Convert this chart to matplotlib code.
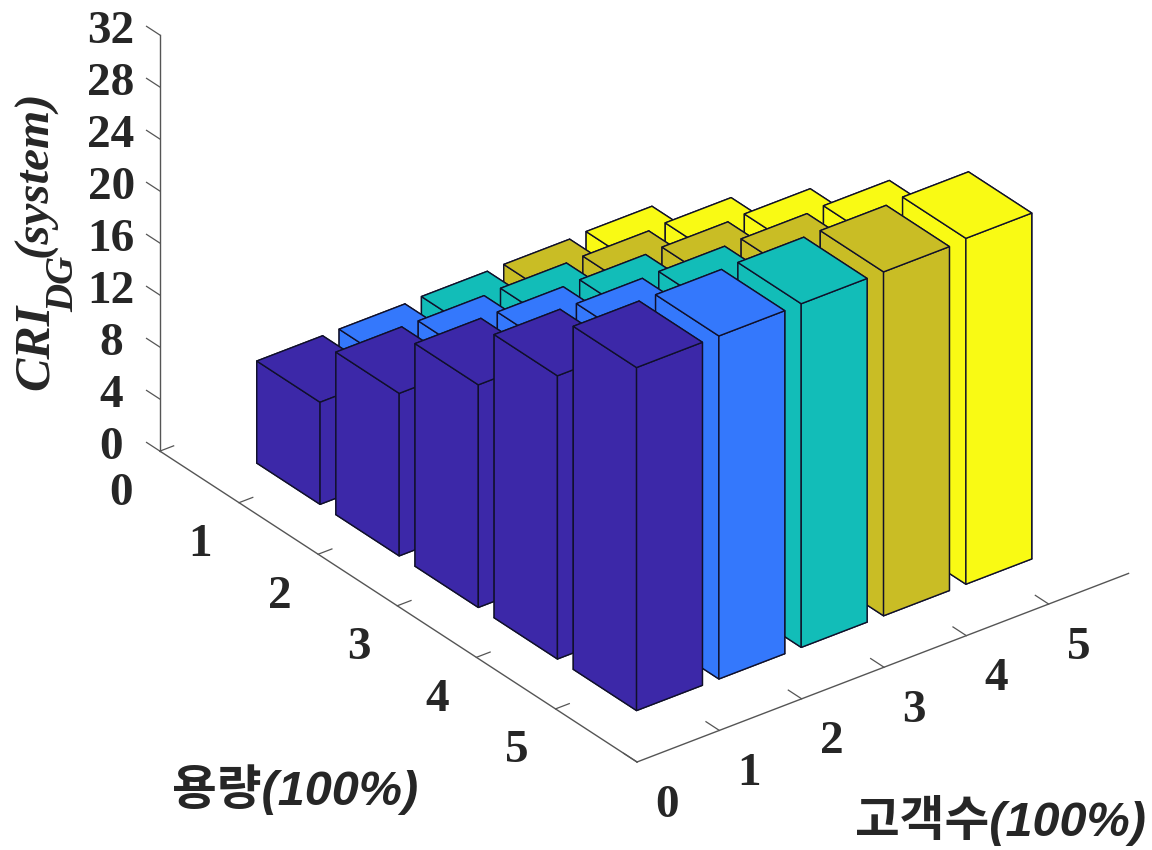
import numpy as np
import matplotlib
matplotlib.use('Agg')
import matplotlib.pyplot as plt
from matplotlib.transforms import ScaledTranslation
from mpl_toolkits.mplot3d import proj3d

customers = [1, 2, 3, 4, 5]
capacities = [1, 2, 3, 4, 5]
colors = ['#3C28A8', '#3478FC', '#12BDB8', '#C9BD25', '#F9FA14']
h_c1 = [7.85, 12.50, 17.12, 21.78, 26.38]
h_c2 = [7.87, 12.47, 17.12, 21.73, 26.38]
h_c3 = [7.95, 12.55, 17.17, 21.77, 26.43]
h_c4 = [7.99, 12.59, 17.25, 21.85, 26.45]
h_c5 = [8.09, 12.72, 17.37, 21.97, 26.60]
heights = [h_c1, h_c2, h_c3, h_c4, h_c5]
z_ticks = [0, 4, 8, 12, 16, 20, 24, 28, 32]
xy_ticks = [0, 1, 2, 3, 4, 5]

W, H = 1152, 850

fig = plt.figure(figsize=(W/100, H/100), dpi=100)
ax = fig.add_axes([0, 0, 1, 1], projection='3d', proj_type='ortho', computed_zorder=False)
ax.view_init(elev=30, azim=-127.5)
XMAX, YMAX, ZMAX = 5.97, 6.03, 32
ax.set_box_aspect((619, 783, 480))
ax.set_xlim(0, XMAX)
ax.set_ylim(YMAX, 0)
ax.set_zlim(0, ZMAX)

w = 0.8
for i in range(len(customers) - 1, -1, -1):
    for j in range(len(capacities)):
        ax.bar3d(customers[i] - w/2, capacities[j] - w/2, 0, w, w, heights[i][j],
                 color=colors[i], edgecolor='#10102A', linewidth=1.0, shade=False)

ax.grid(False)
for a in (ax.xaxis, ax.yaxis, ax.zaxis):
    a.pane.fill = False
    a.pane.set_edgecolor('none')
    a.set_ticks_position('lower')
    a.line.set_color('#555555')
    a.line.set_linewidth(1.0)
    a._axinfo['tick']['inward_factor'] = 0.0
    a._axinfo['tick']['outward_factor'] = 0.35
    a._axinfo['tick']['linewidth'] = {True: 0.9, False: 0.9}
    a._axinfo['tick']['color'] = '#555555'

ax.set_xticks(xy_ticks)
ax.set_yticks(xy_ticks)
ax.set_zticks(z_ticks)
font = dict(family='Liberation Serif', weight='bold', size=34, color='#262626')
ax.set_xticklabels([str(v) for v in xy_ticks], **font)
ax.set_yticklabels([str(v) for v in xy_ticks], **font)
ax.set_zticklabels([str(v) for v in z_ticks], **font)
ax.tick_params(axis='x', pad=14, color='#555555')
ax.tick_params(axis='y', pad=14, color='#555555')
ax.tick_params(axis='z', pad=14, color='#555555')

# place the square axes box so that the floor corners land on the reference spots
fig.canvas.draw()
def px(x, y, z):
    X, Y, _ = proj3d.proj_transform(x, y, z, ax.get_proj())
    return ax.transData.transform((X, Y))
a0, a1 = px(0, YMAX, 0), px(XMAX, YMAX, 0)
tgt0 = np.array([637, H - 762]); tgt1 = np.array([1128, H - 572])
scale = np.linalg.norm(tgt1 - tgt0) / np.linalg.norm(a1 - a0)
pos = ax.get_position()
side = pos.width * W * scale
ax.set_position([0, 0, side / W, side / H])
fig.canvas.draw()
a0 = px(0, YMAX, 0)
dx, dy = tgt0 - a0
ax.set_position([dx / W, dy / H, side / W, side / H])

# nudge the tick labels on screen (pixels at 100 dpi); Axis3D resets tick
# transforms each time it fetches its ticks, so the nudge goes in after that
def nudge(axis, ox, oy):
    off = ScaledTranslation(ox / 100, oy / 100, fig.dpi_scale_trans)
    original = axis.get_major_ticks
    def patched(numticks=None):
        ticks = original(numticks)
        for t in ticks:
            t.label1.set_transform(ax.transData + off)
        return ticks
    axis.get_major_ticks = patched
nudge(ax.xaxis, 4, 17)
nudge(ax.yaxis, -12, 11.5)
nudge(ax.zaxis, 4, 17.5)

label_font = dict(family=['Liberation Sans', 'Noto Sans CJK KR'], style='italic', weight='bold',
                  size=35, color='#262626', va='center', ha='left')
fig.text(172/W, 1 - 790/H, '용량(100%)', **label_font)
fig.text(855/W, 1 - 820/H, '고객수(100%)', **label_font)

z_font = dict(family='Liberation Serif', style='italic', weight='bold', color='#262626',
              rotation=90, rotation_mode='anchor', va='baseline', ha='left')
fig.text(48/W, 1 - 390/H, 'CRI', size=36, **z_font)
fig.text(73/W, 1 - 312/H, 'DG', size=28, **z_font)
fig.text(47/W, 1 - 257/H, '(system)', size=35.5, **z_font)

fig.savefig('out.png', dpi=100)
